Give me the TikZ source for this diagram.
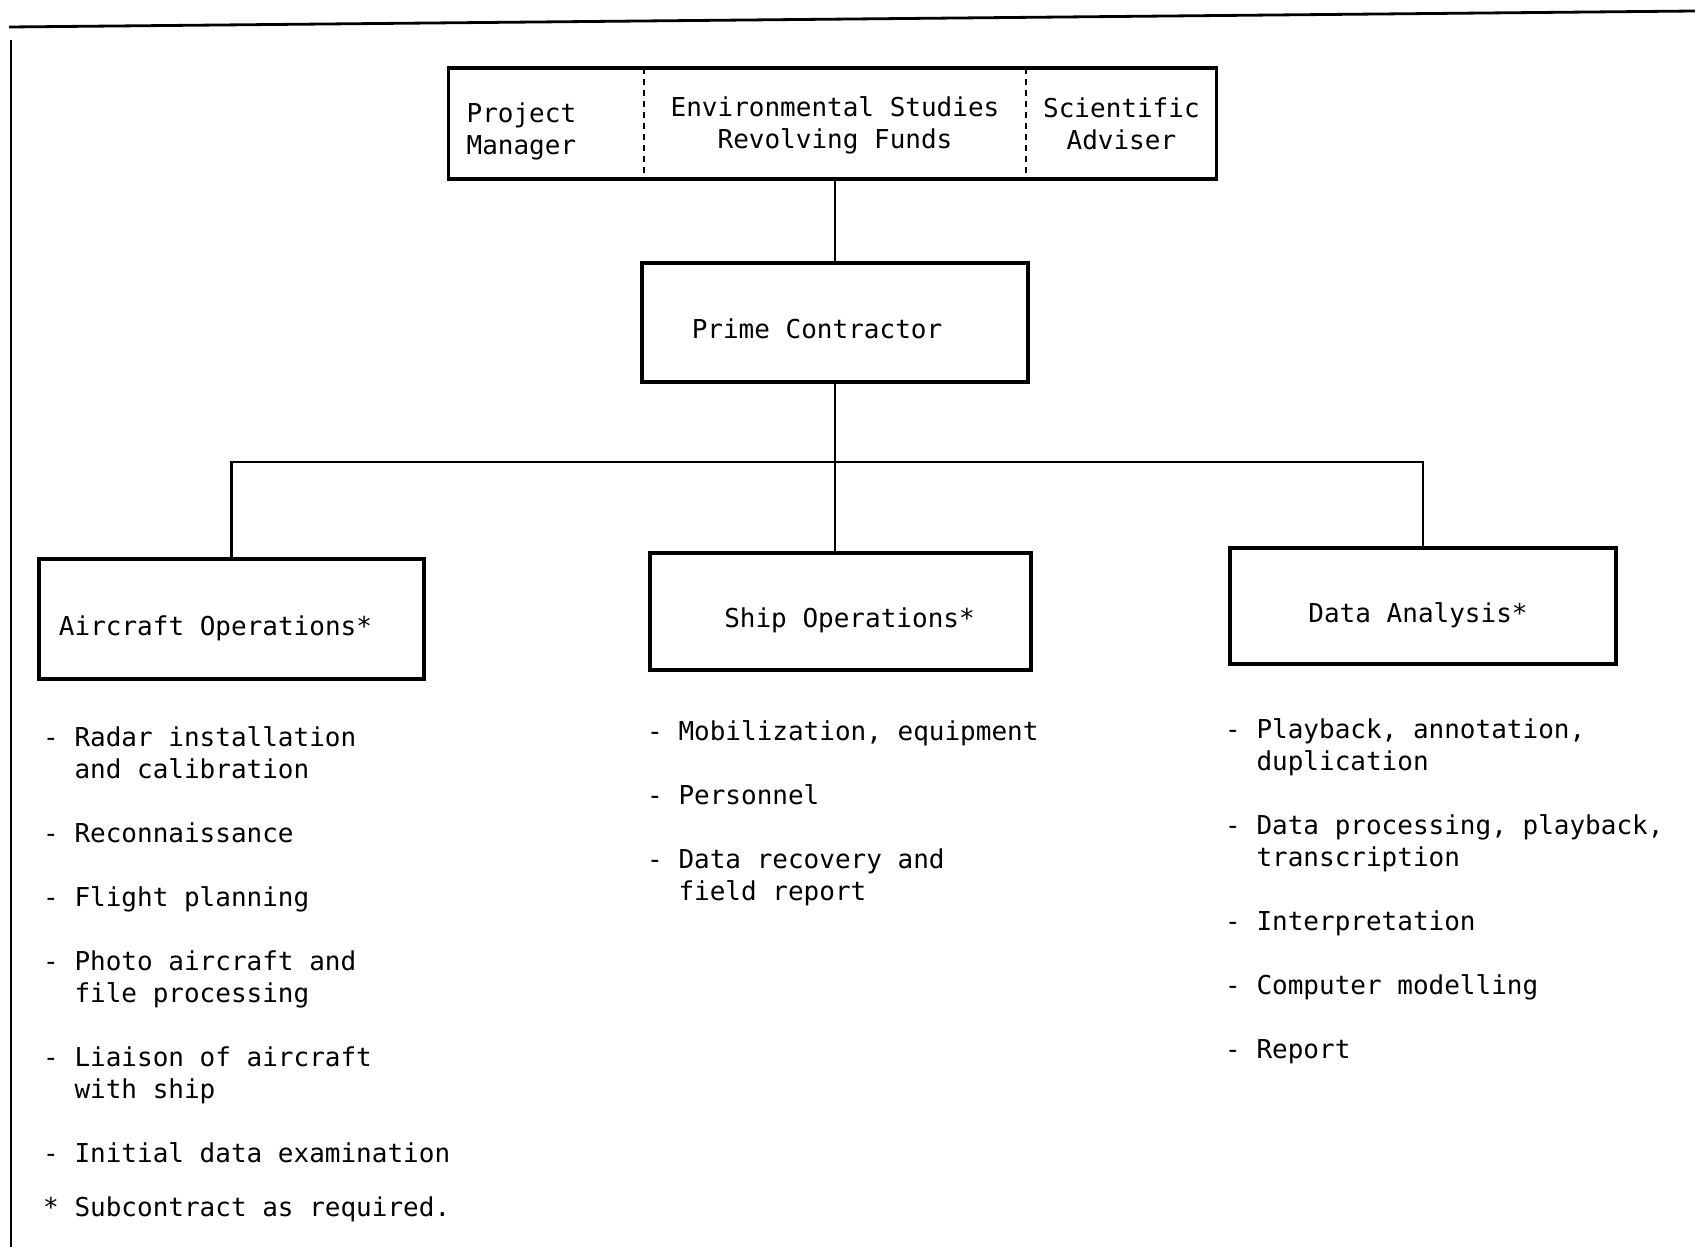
\documentclass[tikz,border=0pt]{standalone}
\usepackage{fontspec}
\setmonofont{DejaVu Sans Mono}
\usetikzlibrary{positioning}
\tikzset{
    every node/.style={font=\ttfamily\fontsize{26}{32}\selectfont}, % typewriter look
    wpbox/.style={draw, line width=3.4pt, minimum width=385pt, minimum height=118pt, inner sep=0pt,
        text height=38pt, text depth=6pt}, % work package boxes, text sits a bit low
    topcell/.style={minimum height=111pt, inner sep=0pt}, % parts of the top box
    tie/.style={line width=2.8pt}, % connectors
    divider/.style={line width=2.2pt, dash pattern=on 6pt off 5pt}, % dashed separators
    tasklist/.style={anchor=base west, align=left, inner sep=0pt}, % lists of tasks, placed by their last line
}

\begin{document}
\begin{tikzpicture}[x=1pt, y=-1pt]
    \useasboundingbox (0,0) rectangle (1695,1247);

    % frame of the page
    \draw[line width=2.8pt] (9,27) -- (1695,11);
    \draw[line width=2pt] (11,40) -- (11,1247);

    % top box
    \node[topcell, minimum width=382pt, align=center] (funds) at (835,125) {Environmental Studies\\Revolving Funds};
    \node[topcell, text width=159pt, inner xsep=18pt, align=left, left=0pt of funds, yshift=-6pt] (pm) {Project\\Manager};
    \node[topcell, minimum width=190pt, align=center, right=0pt of funds, yshift=1pt] (adv) {Scientific\\Adviser};
    \draw[line width=3.4pt] (pm.north west |- 0,68) rectangle (adv.south east |- 0,179);
    \draw[divider] (pm.east |- 0,68) -- (pm.east |- 0,179);
    \draw[divider] (funds.east |- 0,68) -- (funds.east |- 0,179);

    \node[wpbox, minimum width=386pt, minimum height=119pt] (prime) at (835,322.5) {Prime Contractor\hspace*{36pt}};

    \node[wpbox, minimum height=120pt] (air) at (231.5,619) {Aircraft Operations*\hspace*{32pt}};
    \node[wpbox, minimum width=381pt, minimum height=117pt] (ship) at (840.5,611.5) {\hspace*{18pt}Ship Operations*};
    \node[wpbox, minimum width=386pt, minimum height=116pt] (data) at (1423,606) {Data Analysis*\hspace*{10pt}};

    \coordinate (split) at (835,462);

    \draw[tie] (prime.north) -- (prime.north |- 0,179);
    \draw[tie] (prime.south) -- (prime.south |- ship.north);
    \draw[tie] (air.north) |- (split) -| (data.north);

    % tasks
    \node[tasklist] (airtasks) at (43,1162) {- Radar installation\\\ \ and calibration\\[32pt]- Reconnaissance\\[32pt]- Flight planning\\[32pt]- Photo aircraft and\\\ \ file processing\\[32pt]- Liaison of aircraft\\\ \ with ship\\[32pt]- Initial data examination};
    \node[tasklist] (note) at (43,1216) {* Subcontract as required.};
    \node[tasklist] (shiptasks) at (647,900) {- Mobilization, equipment\\[32pt]- Personnel\\[32pt]- Data recovery and\\\ \ field report};
    \node[tasklist] (datatasks) at (1225,1058) {- Playback, annotation,\\\ \ duplication\\[32pt]- Data processing, playback,\\\ \ transcription\\[32pt]- Interpretation\\[32pt]- Computer modelling\\[32pt]- Report};
\end{tikzpicture}
\end{document}
